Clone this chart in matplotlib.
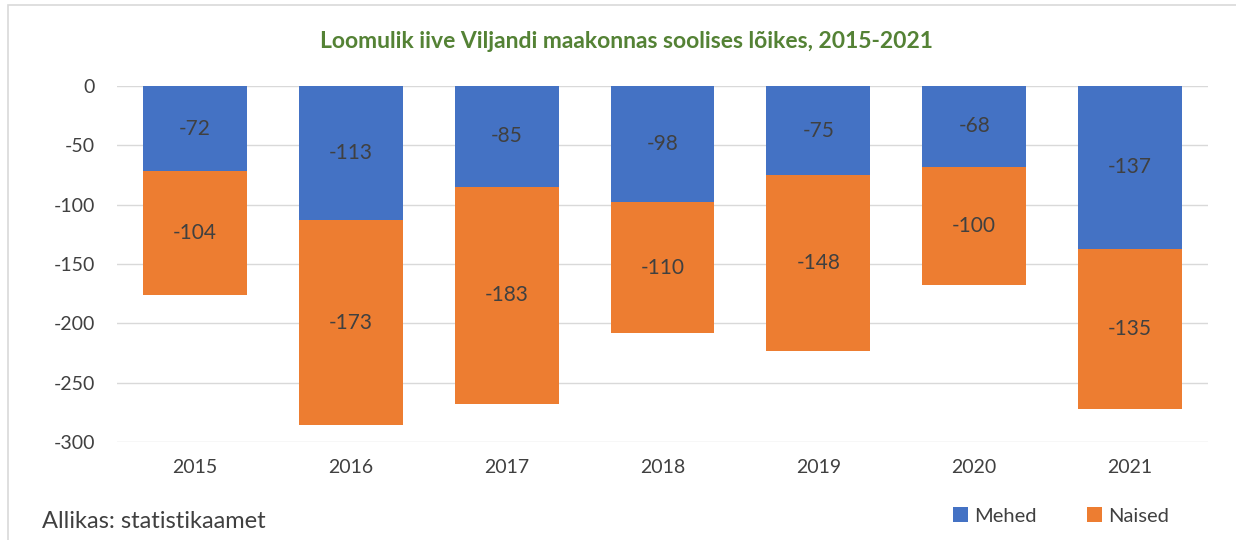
import matplotlib
matplotlib.use("Agg")
import matplotlib.pyplot as plt
from matplotlib.patches import Rectangle
import numpy as np

years = ["2015", "2016", "2017", "2018", "2019", "2020", "2021"]
mehed = [-72, -113, -85, -98, -75, -68, -137]
naised = [-104, -173, -183, -110, -148, -100, -135]
yticks = [0, -50, -100, -150, -200, -250, -300]

blue = "#4472C4"
orange = "#ED7D31"
txt = "#404040"
font = "Lato"

fig = plt.figure(figsize=(12.36, 5.4), dpi=100)
fig.patch.set_facecolor("white")
fig.patches.append(Rectangle((8/1236, -0.01), 1.0, 1 - 5/540 + 0.01, transform=fig.transFigure,
                             fill=False, edgecolor="#D9D9D9", linewidth=1.2))

ax = fig.add_axes([117/1236, 1 - 442/540, (1208 - 117)/1236, (442 - 86)/540])
x = np.arange(len(years))
w = 0.667
ax.bar(x, mehed, width=w, color=blue, zorder=3, label="Mehed")
ax.bar(x, naised, width=w, bottom=mehed, color=orange, zorder=3, label="Naised")

for i in range(len(years)):
    ax.text(x[i], mehed[i] / 2, str(mehed[i]), ha="center", va="center",
            fontsize=15, color=txt, family=font, zorder=4)
    ax.text(x[i], mehed[i] + naised[i] / 2, str(naised[i]), ha="center", va="center",
            fontsize=15, color=txt, family=font, zorder=4)

ax.set_xlim(-0.5, len(years) - 0.5)
ax.set_ylim(-300, 0)
ax.set_yticks(yticks)
ax.set_yticklabels([str(v) for v in yticks], fontsize=14, color=txt, family=font)
ax.set_xticks(x)
ax.set_xticklabels(years, fontsize=14, color=txt, family=font)
ax.tick_params(axis="both", length=0)
ax.tick_params(axis="y", pad=16)
ax.tick_params(axis="x", pad=12)
ax.grid(axis="y", color="#D9D9D9", linewidth=1, zorder=0)
for s in ax.spines.values():
    s.set_visible(False)

fig.text(626/1236, 1 - 42/540, "Loomulik iive Viljandi maakonnas soolises lõikes, 2015-2021",
         ha="center", va="center", fontsize=16.5, fontweight="bold", color="#548235", family=font)
fig.text(42/1236, 1 - 522/540, "Allikas: statistikaamet", ha="left", va="center",
         fontsize=17, color=txt, family=font)

leg = fig.legend(loc="center", bbox_to_anchor=(1061/1236, 1 - 516/540), ncol=2, frameon=False,
                 prop={"family": font, "size": 14.5}, handlelength=0.75, handleheight=0.75,
                 handletextpad=0.3, columnspacing=2.5)
for t in leg.get_texts():
    t.set_color(txt)

fig.savefig("out.png", dpi=100)
